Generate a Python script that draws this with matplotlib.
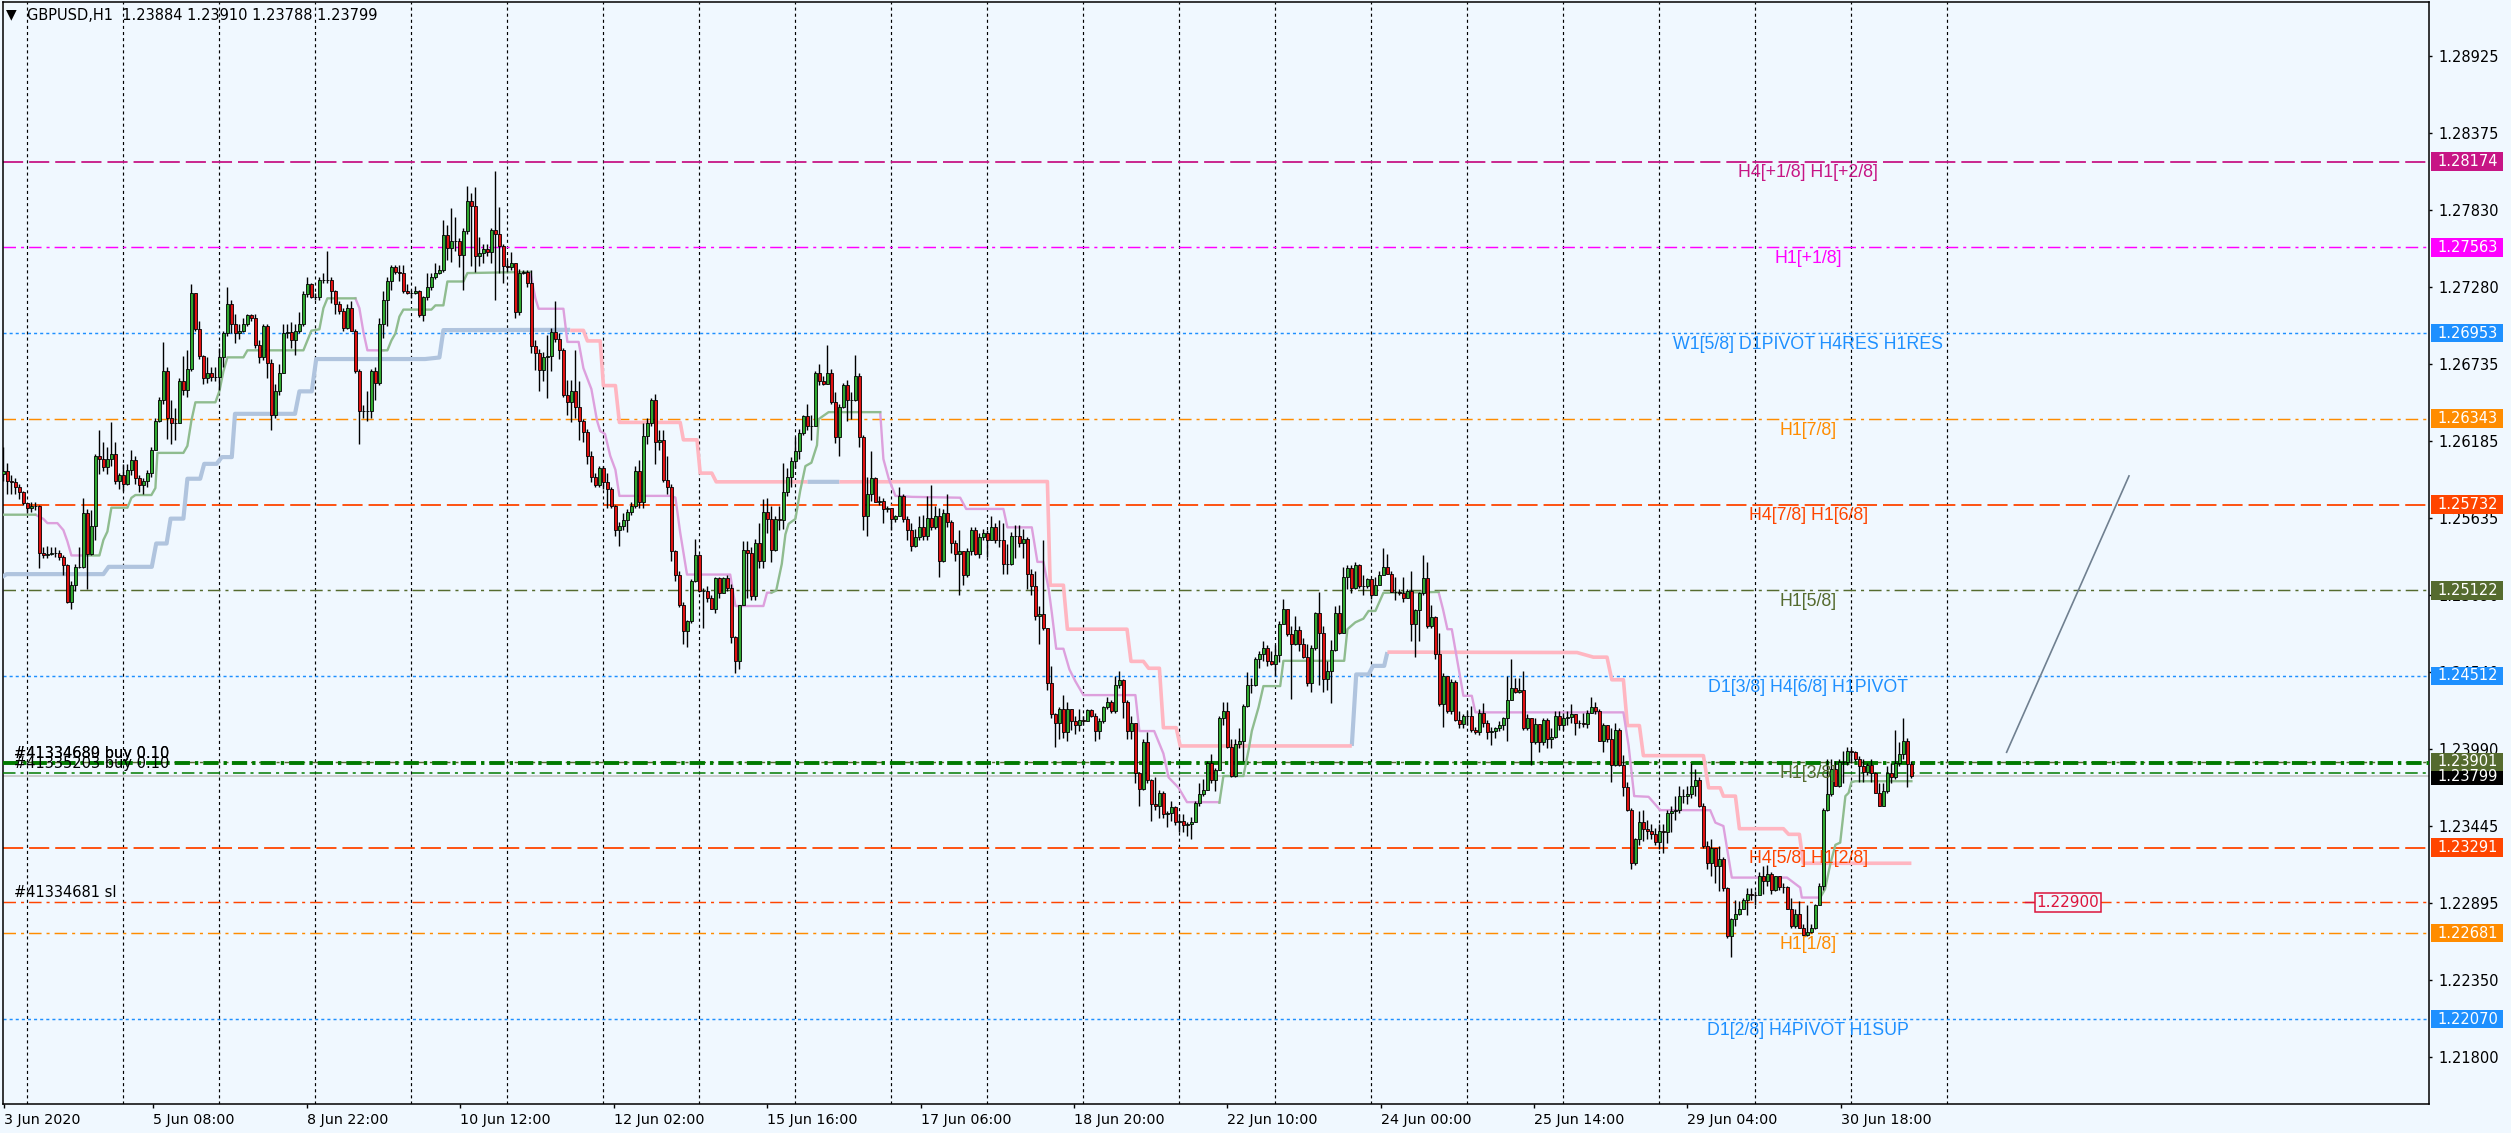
import numpy as np
import matplotlib
matplotlib.use("Agg")
import matplotlib.pyplot as plt
from matplotlib.patches import Rectangle
from matplotlib.transforms import blended_transform_factory

plt.rcParams['lines.scale_dashes'] = False

# ---------------- data ----------------
title_text = "GBPUSD,H1  1.23884 1.23910 1.23788 1.23799"
pip_base = 1.2          # prices below are pips above 1.2000
first_open = 595
close_pips = [
 597,590,589,586,582,574,571,572,572,539, 537,538,539,539,536,530,504,516,529,529,
 567,538,558,608,606,600,606,609,590,594, 588,598,605,592,587,590,596,612,633,648,
 668,635,631,631,661,655,670,724,698,679, 663,667,664,664,678,695,716,702,695,697,
 702,708,706,687,678,700,674,637,654,667, 695,696,690,697,702,723,730,721,721,733,
 733,733,725,716,711,699,713,697,668,640, 640,640,668,660,702,719,732,742,739,738,
 725,724,724,725,708,721,728,735,738,740, 765,756,761,761,751,768,789,786,750,752,
 755,753,769,766,757,743,742,745,710,738, 739,731,686,681,669,678,679,696,691,683,
 651,646,654,643,633,625,608,593,587,599, 589,584,572,555,558,562,568,572,597,575,
 622,631,648,618,619,591,586,540,523,502, 483,490,519,537,512,512,507,499,521,510,
 521,514,479,462,502,541,539,508,546,533, 568,563,541,563,562,582,593,604,611,624,
 636,629,629,667,661,659,667,646,621,643, 658,648,648,665,621,565,581,592,575,576,
 570,571,563,565,579,563,555,544,550,557, 551,564,557,565,533,567,561,546,538,540,
 523,540,555,538,550,553,548,557,548,548, 531,531,551,551,546,549,524,515,494,495,
 485,446,424,418,428,411,428,419,416,420, 419,427,423,412,419,429,433,426,445,448,
 433,412,418,382,371,404,377,360,359,368, 353,354,358,347,348,345,346,347,361,367,
 370,389,377,384,421,426,401,380,403,405, 430,445,445,463,467,471,462,460,466,488,
 499,481,474,484,474,465,446,471,496,482, 449,455,470,496,482,522,528,514,530,515,
 515,520,509,516,523,529,524,511,511,510, 507,512,488,498,510,521,487,493,467,431,
 451,426,447,420,417,423,423,413,411,425, 418,411,412,414,416,421,434,443,440,441,
 414,421,404,417,404,420,406,408,423,416, 421,422,424,418,418,417,425,429,426,405,
 416,406,388,413,388,372,356,318,335,347, 342,341,339,333,341,340,354,355,356,366,
 366,367,373,377,359,330,318,329,316,321, 300,266,278,282,285,292,296,295,295,309,
 305,310,299,309,301,301,285,273,282,272, 267,269,272,288,302,356,367,385,373,390,
 390,398,397,392,387,383,388,382,368,359, 369,382,379,389,396,405,388.4,379.9]
high_pips = [
 614,603,594,592,588,583,574,575,575,573, 543,544,543,543,541,537,531,519,531,543,
 578,570,569,609,626,618,614,632,618,596, 602,602,612,608,594,592,598,614,635,650,
 689,671,648,642,663,679,683,730,724,704, 680,678,671,671,685,697,728,719,709,702,
 706,709,709,709,690,702,702,677,659,673, 702,702,703,702,710,725,735,731,724,735,
 738,754,735,726,718,713,716,718,698,670, 644,654,670,671,706,725,735,744,744,744,
 744,730,726,729,726,722,738,738,745,744, 776,772,784,778,763,770,800,795,799,764,
 759,759,770,811,785,759,747,753,745,741, 740,740,740,690,684,682,694,699,718,695,
 685,662,662,683,661,634,627,611,596,601, 601,596,586,573,561,567,570,575,601,605,
 631,635,649,652,626,626,608,588,541,526, 504,491,520,549,538,514,515,509,522,522,
 522,523,517,480,502,547,547,543,549,560, 577,578,572,565,572,603,599,607,621,627,
 637,645,637,668,673,665,687,670,653,645, 660,662,653,680,667,623,593,611,593,579,
 578,572,571,566,586,581,565,560,556,565, 566,579,587,572,571,570,581,562,548,555,
 540,542,557,557,553,556,555,565,560,562, 560,545,554,559,559,556,550,527,526,501,
 548,485,458,425,429,438,433,428,423,428, 423,428,428,425,421,430,436,434,451,455,
 449,434,423,418,383,406,411,378,379,370, 369,355,362,359,353,353,347,351,362,375,
 378,391,396,386,423,433,433,406,406,414, 431,454,450,465,469,476,473,469,473,490,
 506,499,487,494,487,478,474,473,497,511, 487,462,477,501,502,529,530,530,532,531,
 523,521,512,522,526,542,538,526,522,513, 522,513,526,499,511,537,532,502,494,482,
 453,449,449,448,426,424,426,430,415,428, 432,420,415,415,419,422,451,463,450,450,
 455,424,421,421,413,421,421,414,426,426, 425,426,431,424,420,425,427,436,433,428,
 418,415,414,418,414,395,376,357,336,355, 356,349,346,343,346,346,356,359,366,373,
 371,373,389,385,379,361,334,335,324,330, 322,301,279,292,291,293,300,300,298,312,
 316,317,312,309,309,304,302,293,285,291, 275,288,275,289,304,357,392,392,391,392,
 398,401,399,398,394,392,389,392,383,375, 375,387,389,413,404,421,407,391.0]
low_pips = [
 590,581,581,581,577,573,567,568,569,528, 535,535,537,536,534,523,503,499,512,528,
 528,513,537,548,595,597,595,601,588,584, 583,587,594,588,582,581,586,593,612,632,
 645,620,616,619,631,651,650,668,697,677, 659,660,661,661,655,671,693,695,688,691,
 696,700,704,685,674,676,663,626,635,651, 667,692,685,680,695,700,721,720,719,719,
 731,731,717,709,709,697,698,697,667,616, 635,633,635,648,658,692,700,726,737,732,
 724,723,720,723,707,704,719,726,734,737, 739,747,746,754,742,726,766,743,739,743,
 745,750,745,719,738,731,739,740,706,708, 737,728,681,669,654,661,649,668,689,677,
 650,637,632,635,619,618,602,589,586,586, 584,571,571,551,544,555,554,566,571,571,
 571,616,629,602,612,589,581,533,519,500, 474,472,489,518,511,485,504,499,496,507,
 510,512,475,453,456,504,507,505,505,528, 528,553,532,540,555,556,579,586,599,606,
 623,626,619,629,658,658,660,645,617,608, 642,633,634,647,614,555,551,576,575,573,
 560,568,555,561,565,561,548,540,543,548, 548,548,555,556,522,532,557,539,533,509,
 516,522,537,537,535,548,536,548,546,543, 524,524,530,535,543,535,513,509,491,474,
 484,441,421,401,406,407,405,413,410,412, 416,419,422,405,406,418,428,425,425,443,
 421,406,406,375,359,370,375,348,356,350, 350,344,348,345,340,340,337,335,347,359,
 366,370,375,369,384,416,400,379,379,400, 391,429,439,444,457,462,458,459,451,461,
 488,480,435,473,469,464,444,440,470,445, 440,441,432,469,481,482,513,510,513,514,
 509,514,506,509,516,523,524,511,505,509, 504,507,476,465,476,509,485,485,463,430,
 415,425,424,419,414,414,416,411,410,409, 415,406,402,407,412,413,405,434,439,439,
 413,413,388,403,397,402,400,400,407,413, 413,416,418,409,414,415,414,425,424,405,
 397,404,376,387,387,366,355,314,317,331, 334,335,335,331,328,325,332,340,349,354,
 361,360,364,366,358,329,314,309,304,298, 298,265,251,273,281,285,281,292,288,295,
 296,302,296,298,299,297,285,272,272,272, 266,266,268,271,288,299,355,366,373,372,
 375,388,389,391,376,376,381,376,368,359, 359,368,375,378,387,392,372,378.8]

nan = float('nan')
# indicator lines: (bar index, pips)
green_x = [0,8,nan,20,24,25,26,27,31,32,33,37,38,38.5,45,46,47,48,53,54,55,56,60,61,75,76,77,79,80,81,88,nan,
           95,96,97,98,99,100,107,108,110,111,115,116,131.7,nan,
           192,193.2,194.6,195.5,196.3,198,199.2,200.5,202,203.4,203.8,206.3,219.2,nan,
           304,305,310,311.3,312.1,313.8,315,319.2,320,335.2,336,338,340,341.3,343,345,358.8,nan,
           454.2,455.4,456.7,458,459.2,460.5,461.3,462,463,477]
green_y = [566,566,nan,537,537,548,554,571,571,578,580,580,585,610,610,615,633,646,646,654,668,678,678,683,683,690,697,698,713,720,720,nan,
           683,683,690,695,707,712,712,715,715,732,732,738,738.8,nan,
           510.5,512,531,552,559.5,563,583,600.6,603,615.5,634,639,639,nan,
           361,380,380,398.5,412,429,444,444,462,462,484.5,489.4,492,497.5,497.5,510.4,511,nan,
           293.5,299.4,317,331,332.6,365.7,368,375.6,376.3,376.3]
purple_x = [8,10,11,13.5,15,16,17,20,nan,88,89,90,91,95,nan,
            131.7,133,133.8,140,141,143.8,145,147,148.4,149.2,150.4,151.7,153,154,166.7,168,169.2,170.9,181.7,183,190,190.9,192,nan,
            219.2,220,221.3,223,227.1,239.2,240.7,250,251,257.1,258.5,260,261.3,262.1,263.2,265,266.5,268,270,283,284,287.7,290,291.3,293.8,295.9,304,nan,
            358.8,359.9,361,362.1,365,367.1,368,405,406.3,407.7,411.3,414.2,426.7,428,430,432.1,445.9,449.2,449.6,454.2]
purple_y = [566,563,560,560,555,547,537,537,nan,720,713,696,683,683,nan,
            738.8,720,712.6,712.6,689,689,670.3,655.4,633,625.5,623.5,608,598,579.4,579.4,578.2,553.3,523.4,523.4,501,501,510.5,510.5,nan,
            639,605.6,592,579.4,578.7,578.1,570.1,570.1,557,557,532.4,532.4,513.4,496.3,470.6,470.6,455.9,447.4,437.6,437.6,412,412,396,379,371.6,361.4,361.4,nan,
            510.9,498.7,484.5,484.5,437.1,437.1,425.3,425.3,401.6,365.7,365.2,355.7,355.7,346.8,344.4,307.7,307.7,300.6,293.5,293.5]
pink_x = [141.7,145,146,149.2,150,153,154,169.2,170,173.4,174.2,177.1,178.2,201,nan,
          209,261,261.7,265,266,280.9,281.9,285,286.3,289,290,293.2,294.2,337.1,nan,
          346,393.4,397.5,400.9,402.1,405,406,409,410,425,426.3,429.2,430,433,434,445,446.3,449,450,477]
pink_y = [697.2,697.2,689.7,689.7,657.9,657.9,631.7,631.7,619.3,619.3,595.6,595.6,589.4,589.4,nan,
          589.4,589.6,515.8,515.8,484.5,484.5,461.6,461.6,456.7,456.7,414.4,414.4,401.4,401.4,nan,
          468.2,467.9,464.6,464.6,448.5,448.5,415.9,415.9,394.5,394.5,371.6,371.6,365.7,365.7,342.5,342.5,338.5,338.5,317.9,317.9]
steel_x = [-1,0.8,25,26.3,37.1,38.2,40.8,41.8,45,46,49.2,50.2,53.3,54.6,57.1,57.9,72.9,74,77.1,78.2,105.4,109,110,141.7,nan,
           201,209,nan,337.1,338.2,341.3,342.4,345.2,346]
steel_y = [520.6,523.7,523.7,528.9,528.9,545.5,545.5,563.2,563.2,591.6,591.6,602.2,602.2,607,607,637.8,637.8,653.8,653.8,676.8,676.8,677.9,697.4,697.6,nan,
           589.4,589.4,nan,401.4,452.3,452.3,458.4,458.4,468.2]

level_prices = [1.28174, 1.27563, 1.26953, 1.26343, 1.25732, 1.25122, 1.24512, 1.23901, 1.23291, 1.22681, 1.22070]
level_names = ["H4[+1/8] H1[+2/8]", "H1[+1/8]", "W1[5/8] D1PIVOT H4RES H1RES", "H1[7/8]",
               "H4[7/8] H1[6/8]", "H1[5/8]", "D1[3/8] H4[6/8] H1PIVOT", "H1[3/8]",
               "H4[5/8] H1[2/8]", "H1[1/8]", "D1[2/8] H4PIVOT H1SUP"]
level_colors = ['#C71585', '#FF00FF', '#1E90FF', '#FF8C00', '#FF4500', '#556B2F',
                '#1E90FF', '#556B2F', '#FF4500', '#FF8C00', '#1E90FF']
level_kinds = ['dash', 'dashdot', 'dot', 'dashdot', 'dash', 'dashdot', 'dot', 'dashdot', 'dash', 'dashdot', 'dot']

order_prices = [1.23896, 1.23822]
order_texts = [["#41334680 buy 0.10", "#41334689 buy 0.10"], ["#41335203 buy 0.10"]]
sl_price = 1.22900
sl_text = "#41334681 sl"
bid_price = 1.23799

trend_x = [500.8, 531.4]
trend_y = [1.23969, 1.25936]

yticks = [1.28925, 1.28375, 1.27830, 1.27280, 1.26735, 1.26185, 1.25635, 1.25090,
          1.24540, 1.23990, 1.23445, 1.22895, 1.22350, 1.21800]
xtick_labels = ["3 Jun 2020", "5 Jun 08:00", "8 Jun 22:00", "10 Jun 12:00", "12 Jun 02:00",
                "15 Jun 16:00", "17 Jun 06:00", "18 Jun 20:00", "22 Jun 10:00", "24 Jun 00:00",
                "25 Jun 14:00", "29 Jun 04:00", "30 Jun 18:00"]
xtick_bars = [0.2, 37.5, 75.9, 114.2, 152.6, 190.9, 229.3, 267.6, 306.0, 344.3, 382.7, 421.0, 459.4]
grid_bars = [6 + 24 * k for k in range(21)]

# ---------------- figure ----------------
W, H = 2511, 1133
BG = '#F0F8FF'
fig = plt.figure(figsize=(W / 100, H / 100), dpi=100, facecolor=BG)
ax = fig.add_axes([3 / W, 29 / H, 2426 / W, 1102 / H], facecolor=BG)
ax.set_xlim(-0.1, 606.4)
ax.set_ylim(1.214654, 1.293094)

def px(pips):
    return pip_base + np.asarray(pips, dtype=float) / 1e4

# vertical grid
for g in grid_bars:
    ax.axvline(g, color='black', lw=0.85, ls=(0, (2.2, 2.2)), zorder=1)

styles = {'dash': ((0, (14.5, 4.3)), 1.3),
          'dashdot': ((0, (9, 3.6, 2.2, 3.6)), 1.05),
          'dot': ((0, (2.2, 2.2)), 1.05)}
for p, col, kind, name in zip(level_prices, level_colors, level_kinds, level_names):
    ls, lw = styles[kind]
    ax.axhline(p, color=col, lw=lw, ls=ls, zorder=2)
    ax.annotate(name, xy=(451.2, p), xytext=(0, -8.2), textcoords='offset points',
                ha='center', va='center', color=col, fontsize=12.8,
                family='Liberation Sans', zorder=9)

# orders, sl, bid
ax.axhline(bid_price, color='#C0C0C0', lw=1.1, zorder=2)
ax.axhline(order_prices[0], color='#007A00', lw=2.8, ls=(0, (11, 3.6, 2.4, 3.6)), zorder=3)
ax.axhline(order_prices[1], color='#007A00', lw=1.1, ls=(0, (9, 3.6, 2.2, 3.6)), zorder=3)
ax.axhline(sl_price, color='#FF4500', lw=1.05, ls=(0, (9, 3.6, 2.2, 3.6)), zorder=2)
xf = blended_transform_factory(ax.transAxes, ax.transData)
for p, texts in zip(order_prices, order_texts):
    for t in texts:
        ax.annotate(t, xy=(11 / 2426, p), xycoords=xf, xytext=(0, 1.2), textcoords='offset points',
                    ha='left', va='bottom', fontsize=10.5, color='black', family='DejaVu Sans', zorder=9)
ax.annotate(sl_text, xy=(11 / 2426, sl_price), xycoords=xf, xytext=(0, 1.5), textcoords='offset points',
            ha='left', va='bottom', fontsize=10.5, color='black', family='DejaVu Sans', zorder=9)

# sl price label object
ax.plot([505.5, 507.6], [sl_price, sl_price], color='#DC143C', lw=1.0, zorder=8)
ax.text(508.3, sl_price, "1.22900", ha='left', va='center', fontsize=11, color='#DC143C',
        family='DejaVu Sans', zorder=9,
        bbox=dict(boxstyle='square,pad=0.12', fc=BG, ec='#DC143C', lw=1.1))

# trend line
ax.plot(trend_x, trend_y, color='#708090', lw=1.2, zorder=4)

# indicators
ax.plot(steel_x, px(steel_y), color='#B0C4DE', lw=3.0, solid_capstyle='butt', zorder=3)
ax.plot(pink_x, px(pink_y), color='#FFB6C1', lw=2.6, solid_capstyle='butt', zorder=3)
ax.plot(purple_x, px(purple_y), color='#DDA0DD', lw=1.7, zorder=3)
ax.plot(green_x, px(green_y), color='#8FBC8F', lw=1.7, zorder=3)

# candles
c = px(close_pips)
o = np.concatenate([[px(first_open)], c[:-1]])
hgh = px(high_pips)
low = px(low_pips)
idx = np.arange(len(c))
top = np.maximum(o, c)
bot = np.minimum(o, c)
ax.vlines(idx, np.minimum(low, bot), np.maximum(hgh, top), color='black', lw=1.0, zorder=5)
up = c >= o
ax.bar(idx[up], (top - bot)[up], bottom=bot[up], width=0.72, color='#2FA82F',
       edgecolor='black', linewidth=0.6, zorder=6)
ax.bar(idx[~up], (top - bot)[~up], bottom=bot[~up], width=0.72, color='#E01010',
       edgecolor='black', linewidth=0.6, zorder=6)

# axes styling
for s in ax.spines.values():
    s.set_color('black')
    s.set_linewidth(1.1)
ax.yaxis.tick_right()
ax.set_yticks(yticks)
ax.set_yticklabels([f"{v:.5f}" for v in yticks], fontsize=10.5, family='DejaVu Sans')
ax.tick_params(axis='y', which='both', right=True, left=False, length=2.4, width=1, pad=4.2, colors='black')
ax.set_xticks(xtick_bars)
ax.set_xticklabels(xtick_labels, fontsize=10.3, family='DejaVu Sans')
for lab in ax.get_xticklabels():
    lab.set_ha('left')
ax.tick_params(axis='x', length=3.2, width=1, pad=3.0, colors='black')

# price boxes on the right axis
box_prices = [bid_price] + level_prices
box_colors = ['black'] + level_colors
hh = 18.5 / 14049
for p, col in zip(box_prices, box_colors):
    ax.add_patch(Rectangle((2428 / 2426, p - hh / 2), 72 / 2426, hh, transform=xf,
                           facecolor=col, edgecolor='none', clip_on=False, zorder=20))
    ax.text(2434 / 2426, p, f"{p:.5f}", transform=xf, ha='left', va='center', color='white',
            fontsize=10.5, family='DejaVu Sans', clip_on=False, zorder=21)

# title
fig.text(6 / W, 1 - 14 / H, "\u25BC", fontsize=10, va='center', ha='left', family='DejaVu Sans')
fig.text(27 / W, 1 - 15 / H, title_text, fontsize=10.5, va='center', ha='left', family='DejaVu Sans')

fig.savefig("out.png", dpi=100, facecolor=BG)
